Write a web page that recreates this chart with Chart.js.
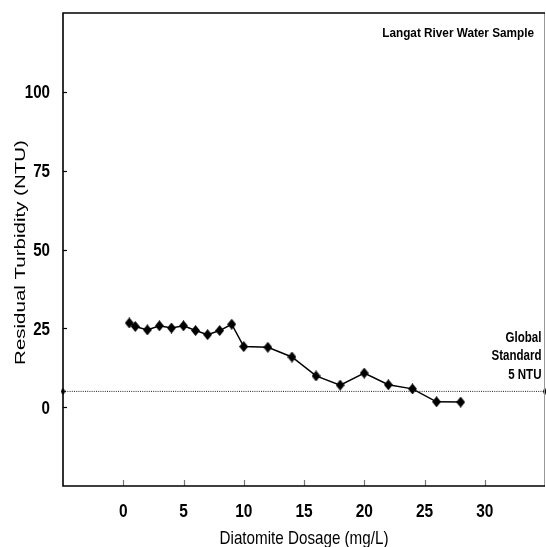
<!DOCTYPE html>
<html>
<head>
<meta charset="utf-8">
<script src="https://cdn.jsdelivr.net/npm/chart.js@4"></script>
<style>
  html, body { margin: 0; padding: 0; background: #fff; }
  #wrap { width: 546px; height: 547px; }
</style>
</head>
<body>
<div id="wrap"><canvas id="c" width="546" height="547"></canvas></div>
<script>
const dosage = [0.5, 1, 2, 3, 4, 5, 6, 7, 8, 9, 10, 12, 14, 16, 18, 20, 22, 24, 26, 28];
const turbidity = [26.7, 25.6, 24.5, 25.8, 25.1, 25.8, 24.3, 23.0, 24.3, 26.3, 19.2, 19.0, 15.9, 9.9, 7.0, 10.8, 7.1, 5.8, 1.7, 1.6];
const standardX = [-5, 35];
const standardY = [5, 5];
const xTickValues = [0, 5, 10, 15, 20, 25, 30];
const yTickValues = [0, 25, 50, 75, 100];
const xTitle = 'Diatomite Dosage (mg/L)';
const yTitle = 'Residual Turbidity (NTU)';
const sampleLabel = 'Langat River Water Sample';
const standardLabel = ['Global', 'Standard', '5 NTU'];

const FONT = "'Liberation Sans', Arial, Helvetica, sans-serif";

function diamond(w, h) {
  const c = document.createElement('canvas');
  c.width = w; c.height = h;
  const g = c.getContext('2d');
  g.fillStyle = '#000';
  g.beginPath();
  g.moveTo(w / 2, 0); g.lineTo(w, h / 2); g.lineTo(w / 2, h); g.lineTo(0, h / 2);
  g.closePath(); g.fill();
  return c;
}
const bigDiamond = diamond(9, 11);
const smallDiamond = diamond(5, 7);

function sText(ctx, text, x, y, font, align, sx) {
  ctx.save();
  ctx.translate(x, y);
  ctx.scale(sx, 1);
  ctx.font = font;
  ctx.textAlign = align;
  ctx.textBaseline = 'alphabetic';
  ctx.fillText(text, 0, 0);
  ctx.restore();
}

const framePlugin = {
  id: 'frame',
  afterDraw(chart) {
    const ctx = chart.ctx;
    const a = chart.chartArea;
    const xs = chart.scales.x, ys = chart.scales.y;
    ctx.save();
    // inside ticks
    ctx.strokeStyle = '#000';
    ctx.lineWidth = 1.2;
    yTickValues.forEach(v => {
      const p = Math.round(ys.getPixelForValue(v)) + 0.5;
      ctx.beginPath(); ctx.moveTo(a.left, p); ctx.lineTo(a.left + 4, p); ctx.stroke();
    });
    ctx.strokeStyle = '#777';
    xTickValues.forEach(v => {
      const p = Math.round(xs.getPixelForValue(v)) + 0.5;
      ctx.beginPath(); ctx.moveTo(p, a.bottom); ctx.lineTo(p, a.bottom - 6); ctx.stroke();
    });
    // frame
    ctx.strokeStyle = '#999';
    ctx.lineWidth = 1;
    ctx.beginPath(); ctx.moveTo(a.right - 0.5, a.top); ctx.lineTo(a.right - 0.5, a.bottom); ctx.stroke();
    ctx.strokeStyle = '#000';
    ctx.lineWidth = 1.6;
    ctx.beginPath();
    ctx.moveTo(a.right, a.top); ctx.lineTo(a.left, a.top); ctx.lineTo(a.left, a.bottom); ctx.lineTo(a.right, a.bottom);
    ctx.stroke();

    ctx.fillStyle = '#000';
    // tick labels
    const tickFont = "bold 18px " + FONT;
    yTickValues.forEach(v => {
      sText(ctx, String(v), a.left - 13, ys.getPixelForValue(v) + 6.5, tickFont, 'right', 0.84);
    });
    xTickValues.forEach(v => {
      sText(ctx, String(v), xs.getPixelForValue(v), a.bottom + 30.5, tickFont, 'center', 0.86);
    });
    // axis titles
    sText(ctx, xTitle, (a.left + a.right) / 2, a.bottom + 58, "19px " + FONT, 'center', 0.8);
    ctx.save();
    ctx.translate(24.5, (a.top + a.bottom) / 2 + 3);
    ctx.rotate(-Math.PI / 2);
    ctx.scale(1, 0.7);
    ctx.font = "20.5px " + FONT;
    ctx.textAlign = 'center';
    ctx.textBaseline = 'alphabetic';
    ctx.fillText(yTitle, 0, 0);
    ctx.restore();
    // annotations
    sText(ctx, sampleLabel, a.right - 11, a.top + 24.3, "bold 12.5px " + FONT, 'right', 0.94);
    const base = ys.getPixelForValue(standardY[0]);
    standardLabel.forEach((t, i) => {
      sText(ctx, t, a.right - 3.5, base - 49.5 + i * 18.3, "bold 15px " + FONT, 'right', 0.77);
    });
    ctx.restore();
  }
};

new Chart(document.getElementById('c'), {
  type: 'scatter',
  data: {
    datasets: [
      {
        data: dosage.map((x, i) => ({ x: x, y: turbidity[i] })),
        showLine: true,
        borderColor: '#000',
        backgroundColor: '#000',
        borderWidth: 1.5,
        pointStyle: bigDiamond,
        pointRadius: 5,
        pointHoverRadius: 5,
        tension: 0
      },
      {
        data: standardX.map((x, i) => ({ x: x, y: standardY[i] })),
        showLine: true,
        borderColor: '#222',
        backgroundColor: '#000',
        borderWidth: 1,
        borderDash: [1, 1.2],
        pointStyle: smallDiamond,
        pointRadius: 3,
        clip: false
      }
    ]
  },
  options: {
    responsive: false,
    animation: false,
    devicePixelRatio: 1,
    layout: { autoPadding: false, padding: { top: 13, right: 1, left: 0, bottom: 0 } },
    plugins: { legend: { display: false }, tooltip: { enabled: false } },
    scales: {
      x: {
        type: 'linear',
        min: -5, max: 35,
        grid: { display: false, drawTicks: false },
        border: { display: false },
        afterFit(s) { s.height = 61; s.paddingLeft = 0; s.paddingRight = 0; },
        ticks: { display: false }
      },
      y: {
        type: 'linear',
        min: -25, max: 125,
        grid: { display: false, drawTicks: false },
        border: { display: false },
        afterFit(s) { s.width = 63; s.paddingTop = 0; s.paddingBottom = 0; },
        ticks: { display: false }
      }
    }
  },
  plugins: [framePlugin]
});
</script>
</body>
</html>
